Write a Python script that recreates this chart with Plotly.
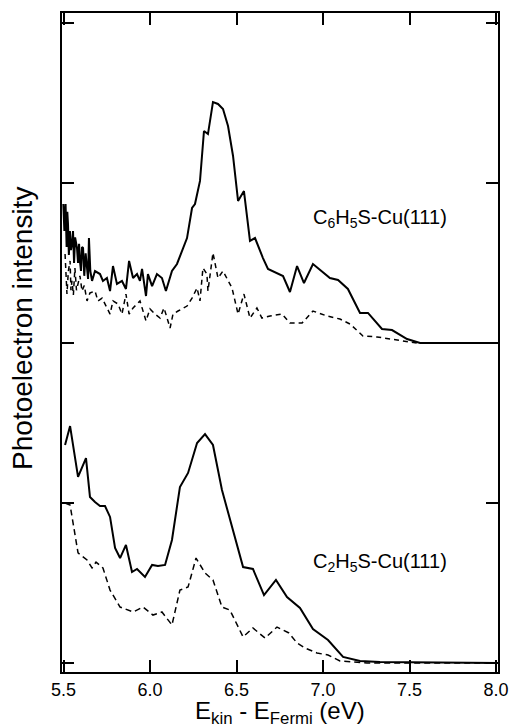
import plotly.graph_objects as go

# ---- Data (energies in eV, intensities in arbitrary units, each spectrum relative to its own baseline) ----
c6_solid_x = [5.499, 5.505, 5.512, 5.518, 5.522, 5.526, 5.531, 5.537, 5.543, 5.549, 5.555, 5.561, 5.567, 5.578,
              5.584, 5.590, 5.595, 5.601, 5.607, 5.613, 5.620, 5.628, 5.636, 5.642, 5.647, 5.655, 5.665, 5.682,
              5.711, 5.728, 5.751, 5.769, 5.786, 5.809, 5.838, 5.861, 5.879, 5.902, 5.925, 5.942, 5.954, 5.977,
              5.988, 6.012, 6.040, 6.069, 6.092, 6.127, 6.156, 6.191, 6.214, 6.243, 6.260, 6.289, 6.312, 6.335,
              6.364, 6.393, 6.422, 6.451, 6.480, 6.509, 6.543, 6.578, 6.607, 6.653, 6.682, 6.769, 6.809, 6.850,
              6.890, 6.942, 6.994, 7.040, 7.087, 7.144, 7.214, 7.260, 7.341, 7.399, 7.486, 7.561, 7.618, 8.010]
c6_solid_y = [0.869, 0.70, 0.869, 0.60, 0.82, 0.744, 0.55, 0.70, 0.58, 0.619, 0.700, 0.50, 0.66, 0.594,
              0.50, 0.62, 0.513, 0.45, 0.60, 0.594, 0.42, 0.56, 0.469, 0.40, 0.656, 0.45, 0.388, 0.450,
              0.431, 0.388, 0.406, 0.325, 0.481, 0.369, 0.388, 0.338, 0.513, 0.406, 0.431, 0.388, 0.463, 0.294,
              0.431, 0.356, 0.431, 0.406, 0.325, 0.450, 0.494, 0.594, 0.656, 0.844, 0.869, 1.013, 1.325, 1.306,
              1.506, 1.494, 1.463, 1.356, 1.169, 0.888, 0.950, 0.638, 0.656, 0.531, 0.463, 0.419, 0.319, 0.481,
              0.375, 0.494, 0.450, 0.406, 0.394, 0.338, 0.188, 0.188, 0.088, 0.081, 0.025, 0.0, 0.0, 0.0]

c6_dash_x = [5.509, 5.514, 5.520, 5.528, 5.538, 5.543, 5.549, 5.557, 5.566, 5.575, 5.584, 5.595, 5.607, 5.620,
             5.636, 5.653, 5.682, 5.699, 5.723, 5.751, 5.769, 5.786, 5.815, 5.838, 5.861, 5.879, 5.902, 5.942,
             5.977, 6.000, 6.029, 6.058, 6.081, 6.116, 6.133, 6.162, 6.214, 6.243, 6.272, 6.289, 6.306, 6.329,
             6.335, 6.364, 6.393, 6.422, 6.474, 6.509, 6.543, 6.578, 6.618, 6.647, 6.694, 6.763, 6.809, 6.879,
             6.942, 7.023, 7.098, 7.156, 7.231, 7.312, 7.387, 7.474, 7.543, 8.010]
c6_dash_y = [0.556, 0.40, 0.306, 0.45, 0.513, 0.33, 0.388, 0.30, 0.469, 0.33, 0.369, 0.42, 0.325, 0.36,
             0.263, 0.313, 0.325, 0.263, 0.281, 0.219, 0.181, 0.263, 0.244, 0.181, 0.306, 0.181, 0.219, 0.263,
             0.138, 0.213, 0.181, 0.156, 0.219, 0.094, 0.181, 0.200, 0.231, 0.281, 0.344, 0.263, 0.469, 0.431,
             0.325, 0.563, 0.406, 0.450, 0.344, 0.181, 0.306, 0.156, 0.219, 0.156, 0.169, 0.181, 0.125, 0.125,
             0.200, 0.169, 0.150, 0.119, 0.044, 0.038, 0.025, 0.013, 0.0, 0.0]

c2_solid_x = [5.509, 5.538, 5.584, 5.630, 5.653, 5.682, 5.711, 5.740, 5.769, 5.798, 5.827, 5.861, 5.896, 5.925,
              5.971, 6.012, 6.046, 6.087, 6.127, 6.173, 6.220, 6.272, 6.318, 6.364, 6.416, 6.480, 6.538, 6.595,
              6.659, 6.728, 6.792, 6.867, 6.942, 7.029, 7.116, 7.214, 7.329, 8.010]
c2_solid_y = [1.363, 1.481, 1.163, 1.281, 1.038, 1.006, 0.981, 0.981, 0.913, 0.719, 0.656, 0.738, 0.569, 0.588,
              0.538, 0.613, 0.606, 0.613, 0.769, 1.100, 1.188, 1.375, 1.431, 1.363, 1.081, 0.831, 0.600, 0.588,
              0.425, 0.519, 0.413, 0.344, 0.213, 0.144, 0.038, 0.013, 0.006, 0.0]

c2_dash_x = [5.509, 5.538, 5.584, 5.636, 5.665, 5.688, 5.728, 5.769, 5.827, 5.902, 5.960, 6.017, 6.069, 6.127,
             6.173, 6.220, 6.266, 6.318, 6.364, 6.416, 6.462, 6.538, 6.595, 6.665, 6.734, 6.803, 6.850, 6.896,
             6.965, 7.029, 7.098, 7.254, 8.010]
c2_dash_y = [1.000, 0.988, 0.688, 0.644, 0.594, 0.631, 0.594, 0.456, 0.350, 0.319, 0.350, 0.300, 0.319, 0.238,
             0.456, 0.475, 0.656, 0.563, 0.519, 0.350, 0.331, 0.163, 0.219, 0.156, 0.225, 0.188, 0.125, 0.094,
             0.063, 0.050, 0.013, 0.0, 0.0]

upper_offset = 2.0
x_ticks = [5.5, 6.0, 6.5, 7.0, 7.5, 8.0]
x_tick_labels = ["5.5", "6.0", "6.5", "7.0", "7.5", "8.0"]
y_ticks = [0, 1, 2, 3, 4]
labels = ["C<sub>6</sub>H<sub>5</sub>S-Cu(111)", "C<sub>2</sub>H<sub>5</sub>S-Cu(111)"]
label_pos = [(7.33, 2.78), (7.33, 0.63)]
x_title = "E<sub>kin</sub> - E<sub>Fermi</sub> (eV)"
y_title = "Photoelectron intensity"

FONT = "Liberation Sans, Arial, sans-serif"

fig = go.Figure()
fig.add_trace(go.Scatter(x=c6_dash_x, y=[v + upper_offset for v in c6_dash_y], mode="lines",
                         line=dict(color="black", width=1.5, dash="5px,4px"), showlegend=False))
fig.add_trace(go.Scatter(x=c6_solid_x, y=[v + upper_offset for v in c6_solid_y], mode="lines",
                         line=dict(color="black", width=2), showlegend=False))
fig.add_trace(go.Scatter(x=c2_dash_x, y=c2_dash_y, mode="lines",
                         line=dict(color="black", width=1.5, dash="6px,4px"), showlegend=False))
fig.add_trace(go.Scatter(x=c2_solid_x, y=c2_solid_y, mode="lines",
                         line=dict(color="black", width=2), showlegend=False))

for txt, (ax, ay) in zip(labels, label_pos):
    fig.add_annotation(x=ax, y=ay, text=txt, showarrow=False,
                       font=dict(family=FONT, size=20, color="black"))

# axis titles as paper-positioned annotations
fig.add_annotation(xref="paper", yref="paper", x=0.5, y=-0.0615, text=x_title, showarrow=False,
                   xanchor="center", yanchor="middle", font=dict(family=FONT, size=24, color="black"))
fig.add_annotation(xref="paper", yref="paper", x=-0.092, y=0.522, text=y_title, showarrow=False,
                   textangle=-90, xanchor="center", yanchor="middle",
                   font=dict(family=FONT, size=28, color="black"))

fig.update_layout(
    width=510, height=728,
    margin=dict(l=62, r=12, t=13, b=56),
    paper_bgcolor="white", plot_bgcolor="white",
    font=dict(family=FONT, color="black"),
)
fig.update_xaxes(
    range=[5.4913, 8.0116], tickvals=x_ticks, ticktext=x_tick_labels,
    ticks="inside", ticklen=12, tickwidth=1.5, tickcolor="black",
    showline=True, linecolor="black", linewidth=2, mirror="ticks",
    showgrid=False, zeroline=False, automargin=False,
    tickfont=dict(size=18),
)
fig.update_yaxes(
    range=[-0.056, 4.0625], tickvals=y_ticks, showticklabels=False,
    ticks="inside", ticklen=12, tickwidth=1.5, tickcolor="black",
    showline=True, linecolor="black", linewidth=2, mirror="ticks",
    showgrid=False, zeroline=False, automargin=False,
)

fig.write_html("out.html", config={"displayModeBar": False},
               post_script="document.body.style.margin='0';document.body.style.overflow='hidden';")
